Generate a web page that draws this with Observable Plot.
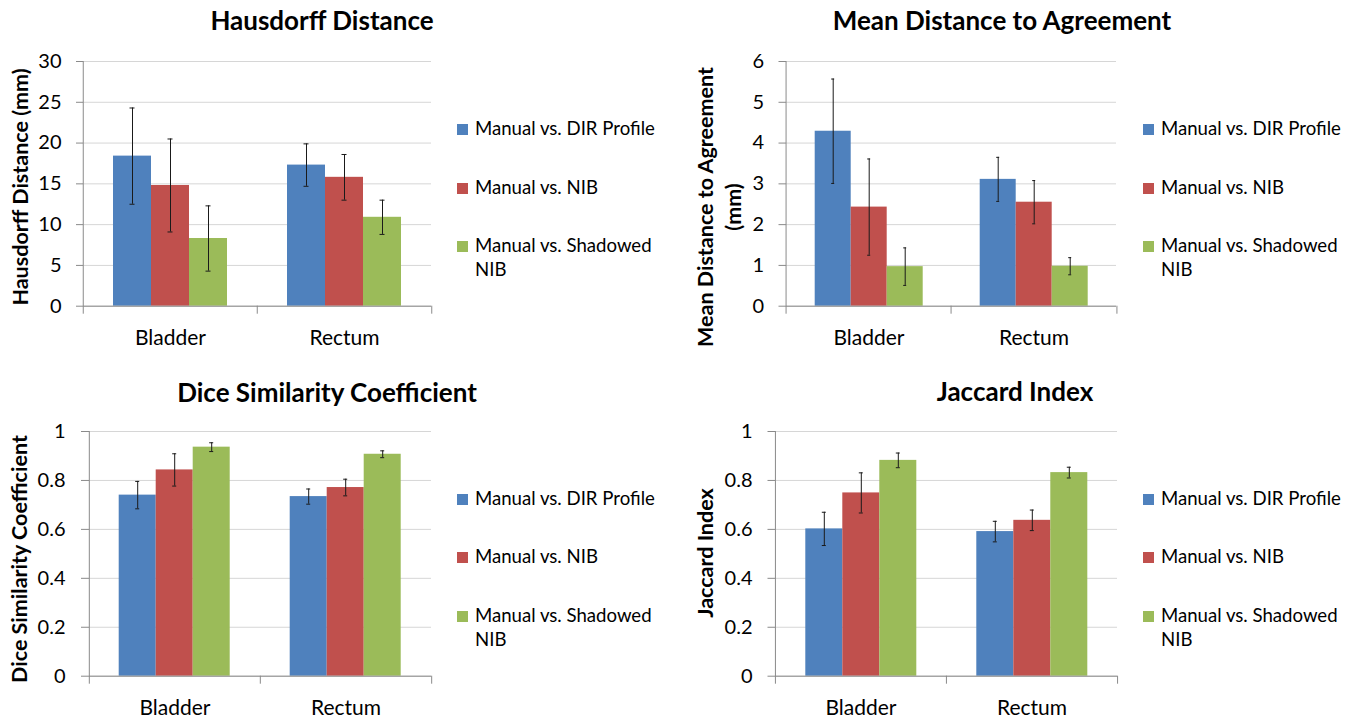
<!DOCTYPE html>
<html>
<head>
<meta charset="utf-8">
<script src="https://cdn.jsdelivr.net/npm/d3@7"></script>
<script src="https://cdn.jsdelivr.net/npm/@observablehq/plot@0.6"></script>
<style>
  html, body { margin: 0; padding: 0; background: #fff; }
  #root { position: relative; width: 1357px; height: 718px; overflow: hidden; background: #fff; }
  #root > svg.plotsvg { position: absolute; }
  #overlay { position: absolute; left: 0; top: 0; pointer-events: none; }
</style>
</head>
<body>
<div id="root"></div>
<script>
// ---------------- data ----------------
const categories = ["Bladder", "Rectum"];
const series = ["Manual vs. DIR Profile", "Manual vs. NIB", "Manual vs. Shadowed NIB"];
const seriesColors = ["#4F81BD", "#C0504D", "#9BBB59"];

// order: Bladder (DIR, NIB, Shadowed NIB), Rectum (DIR, NIB, Shadowed NIB)
const hausdorffMean = [18.4, 14.8, 8.3, 17.3, 15.8, 10.9];
const hausdorffSD   = [5.9, 5.7, 4.0, 2.6, 2.8, 2.1];
const mdaMean = [4.29, 2.43, 0.97, 3.11, 2.55, 0.98];
const mdaSD   = [1.28, 1.18, 0.46, 0.54, 0.53, 0.21];
const diceMean = [0.740, 0.843, 0.936, 0.734, 0.771, 0.907];
const diceSD   = [0.056, 0.066, 0.018, 0.031, 0.034, 0.014];
const jaccardMean = [0.602, 0.749, 0.882, 0.591, 0.637, 0.832];
const jaccardSD   = [0.068, 0.082, 0.030, 0.042, 0.042, 0.022];

const hausdorffTicks = [0, 5, 10, 15, 20, 25, 30];
const mdaTicks = [0, 1, 2, 3, 4, 5, 6];
const unitTicks = [0, 0.2, 0.4, 0.6, 0.8, 1];

const chartTitles = ["Hausdorff Distance", "Mean Distance to Agreement", "Dice Similarity Coefficient", "Jaccard Index"];
const axisTitles = [["Hausdorff Distance (mm)"], ["Mean Distance to Agreement", "(mm)"], ["Dice Similarity Coefficient"], ["Jaccard Index"]];

// ---------------- layout ----------------
const FONT = "Lato, 'Open Sans', sans-serif";
const GRID = "#d6d6d6", AXIS = "#8a8a8a", ERR = "#1a1a1a";

const panels = [
  {mean: hausdorffMean, sd: hausdorffSD, ticks: hausdorffTicks,
   left: 0, top: 0, width: 440, height: 360, mL: 82, mR: 9, mT: 61, mB: 54.3, tickSize: 7, tickPad: 15,
   titleX: 322, titleY: 30, axisTitleX: [28], axisTitleY: 187, legX: 457, legY: [135, 194, 252]},
  {mean: mdaMean, sd: mdaSD, ticks: mdaTicks,
   left: 680, top: 0, width: 450, height: 360, mL: 105.3, mR: 13, mT: 61, mB: 54.3, tickSize: 7.5, tickPad: 15,
   titleX: 1002, titleY: 29.5, axisTitleX: [713, 741], axisTitleY: 207, legX: 1143, legY: [135, 194, 252]},
  {mean: diceMean, sd: diceSD, ticks: unitTicks,
   left: 0, top: 360, width: 440, height: 358, mL: 88.3, mR: 9, mT: 71, mB: 42.3, tickSize: 8, tickPad: 16,
   titleX: 327, titleY: 401.5, axisTitleX: [27], axisTitleY: 559, legX: 457, legY: [505, 563, 622]},
  {mean: jaccardMean, sd: jaccardSD, ticks: unitTicks,
   left: 680, top: 360, width: 450, height: 358, mL: 94.7, mR: 13, mT: 71, mB: 42.3, tickSize: 7.5, tickPad: 15.5,
   titleX: 1015, titleY: 400.5, axisTitleX: [713], axisTitleY: 553, legX: 1143, legY: [505, 563, 622]}
];

const root = document.getElementById("root");

panels.forEach((p) => {
  const rows = categories.flatMap((c, ci) => series.map((s, si) => ({
    cat: c, series: s, mean: p.mean[ci * series.length + si], sd: p.sd[ci * series.length + si]
  })));
  const yMax = p.ticks[p.ticks.length - 1];
  const fw = (p.width - p.mL - p.mR) / categories.length;
  const axisRows = categories.map((c, i) => ({cat: c, first: i === 0, last: i === categories.length - 1}));
  const axisStyle = {stroke: AXIS, strokeWidth: 1};

  const chart = Plot.plot({
    width: p.width, height: p.height,
    marginLeft: p.mL, marginRight: p.mR, marginTop: p.mT, marginBottom: p.mB,
    style: {fontFamily: FONT, fontSize: "20px", color: "#000", background: "transparent", overflow: "visible"},
    fx: {domain: categories, padding: 0, label: null},
    x: {domain: series, paddingInner: 0, paddingOuter: 0.76, axis: null},
    y: {domain: [0, yMax], label: null},
    color: {domain: series, range: seriesColors},
    marks: [
      Plot.gridY(p.ticks, {stroke: GRID, strokeOpacity: 1, strokeWidth: 1}),
      Plot.axisY({ticks: p.ticks, tickFormat: d => String(d), tickSize: p.tickSize, tickPadding: p.tickPad,
                  stroke: AXIS, fill: "#000", fontSize: 20, label: null}),
      Plot.barY(rows, {fx: "cat", x: "series", y: "mean", fill: "series"}),
      Plot.ruleX(rows, {fx: "cat", x: "series", y1: d => d.mean - d.sd, y2: d => d.mean + d.sd, stroke: ERR, strokeWidth: 1}),
      Plot.tickY(rows, {fx: "cat", x: "series", y: d => d.mean + d.sd, inset: 16.5, stroke: ERR, strokeWidth: 1}),
      Plot.tickY(rows, {fx: "cat", x: "series", y: d => d.mean - d.sd, inset: 16.5, stroke: ERR, strokeWidth: 1}),
      Plot.ruleY([0], axisStyle),
      // value axis line (left) and category boundary tick marks
      Plot.ruleX(axisRows.filter(d => d.first), {fx: "cat", x: null, y1: yMax, y2: 0, insetBottom: -8, dx: -fw / 2, ...axisStyle}),
      Plot.ruleX(axisRows.filter(d => !d.first), {fx: "cat", x: null, y1: 0, y2: 0, insetBottom: -8, dx: -fw / 2, ...axisStyle}),
      Plot.ruleX(axisRows.filter(d => d.last), {fx: "cat", x: null, y1: 0, y2: 0, insetBottom: -8, dx: fw / 2, ...axisStyle}),
      Plot.axisFx({anchor: "bottom", tickSize: 0, tickPadding: 23.4, fontSize: 21, fill: "#000", label: null})
    ]
  });
  chart.classList.add("plotsvg");
  chart.style.left = p.left + "px";
  chart.style.top = p.top + "px";
  root.appendChild(chart);
});

// ---------------- titles, axis titles, legends ----------------
const overlay = d3.select(root).append("svg")
  .attr("id", "overlay").attr("width", 1357).attr("height", 718)
  .style("font-family", FONT).attr("fill", "#000");

panels.forEach((p, i) => {
  overlay.append("text")
    .attr("x", p.titleX).attr("y", p.titleY)
    .attr("text-anchor", "middle")
    .style("font-size", "26px").style("font-weight", 700)
    .text(chartTitles[i]);

  axisTitles[i].forEach((line, li) => {
    overlay.append("text")
      .attr("transform", `translate(${p.axisTitleX[li]},${p.axisTitleY}) rotate(-90)`)
      .attr("text-anchor", "middle")
      .style("font-size", "21.5px").style("font-weight", 700)
      .text(line);
  });

  series.forEach((s, si) => {
    const g = overlay.append("g");
    const base = p.legY[si];
    g.append("rect").attr("x", p.legX).attr("y", base - 11).attr("width", 11).attr("height", 11)
      .attr("fill", seriesColors[si]);
    const t = g.append("text").attr("x", p.legX + 18).attr("y", base).style("font-size", "18.6px");
    // wrap to the legend width
    const maxW = 182;
    const words = s.split(" ");
    let line = [];
    let tspan = t.append("tspan").attr("x", p.legX + 18).attr("dy", 0);
    words.forEach(w => {
      line.push(w);
      tspan.text(line.join(" "));
      if (tspan.node().getComputedTextLength() > maxW && line.length > 1) {
        line.pop();
        tspan.text(line.join(" "));
        line = [w];
        tspan = t.append("tspan").attr("x", p.legX + 18).attr("dy", 24).text(w);
      }
    });
  });
});
</script>
</body>
</html>
